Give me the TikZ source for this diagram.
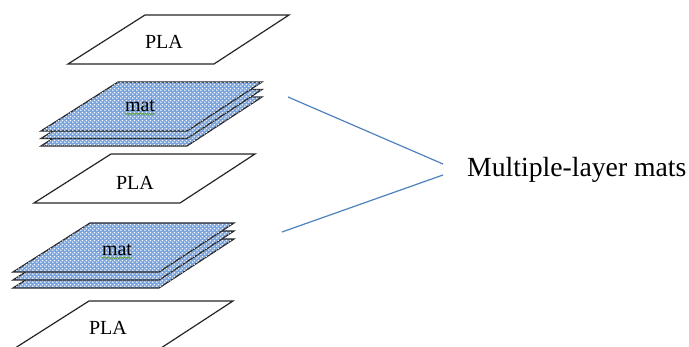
\documentclass[tikz,border=0pt]{standalone}
\usepackage{fontspec}
\setmainfont{Liberation Serif}
\usetikzlibrary{patterns,decorations.pathmorphing}

% white dot lattice laid over the blue fill of the mat sheets
\pgfdeclarepatternformonly{matdots}{\pgfqpoint{0pt}{0pt}}{\pgfqpoint{4pt}{4pt}}{\pgfqpoint{4pt}{4pt}}{%
  \pgfpathcircle{\pgfqpoint{1pt}{1pt}}{1.05pt}%
  \pgfpathcircle{\pgfqpoint{3pt}{3pt}}{1.05pt}%
  \pgfusepath{fill}}

\definecolor{matblue}{RGB}{120,162,220}
\definecolor{leadblue}{RGB}{79,129,189}
\definecolor{spellgreen}{RGB}{90,160,60}

\tikzset{
  sheetline/.style={draw=black!85, line width=1.2pt, line join=miter},
  plasheet/.style={sheetline, fill=white},
  matsheet/.style={sheetline, fill=matblue, postaction={pattern=matdots, pattern color=white}},
  sheetlabel/.style={font=\fontsize{20}{24}\selectfont, inner sep=0pt},
  leader/.style={draw=leadblue, line width=1.2pt},
  squiggle/.style={draw=spellgreen, line width=0.6pt,
    decorate, decoration={zigzag, amplitude=0.7pt, segment length=2.2pt}}
}

% one sheet seen in perspective, given by its top-left corner
\newcommand\layersheet[3]{%
  \path[#1] (#2,#3) -- ++(144,0) -- ++(-75,49) -- ++(-146,0) -- cycle;}

\begin{document}
\begin{tikzpicture}[x=1pt,y=-1pt]
  \useasboundingbox (0,0) rectangle (689,347);
  \clip (0,0) rectangle (689,347);

  % top PLA sheet
  \layersheet{plasheet}{145}{15}
  \node[sheetlabel] (pla1) at (164,42) {PLA};

  % first mat stack, drawn from the bottom sheet up
  \layersheet{matsheet}{118}{97}
  \layersheet{matsheet}{118}{89.5}
  \layersheet{matsheet}{118}{82}
  \node[sheetlabel] (mat1) at (140,106) {mat};
  \draw[squiggle] ([yshift=-2pt]mat1.south west) -- ([yshift=-2pt]mat1.south east);

  % middle PLA sheet
  \layersheet{plasheet}{111}{154}
  \node[sheetlabel] (pla2) at (135,183) {PLA};

  % second mat stack
  \layersheet{matsheet}{90}{239}
  \layersheet{matsheet}{90}{231}
  \layersheet{matsheet}{90}{223}
  \node[sheetlabel] (mat2) at (117,250) {mat};
  \draw[squiggle] ([yshift=-2pt]mat2.south west) -- ([yshift=-2pt]mat2.south east);

  % bottom PLA sheet
  \layersheet{plasheet}{89}{301}
  \node[sheetlabel] (pla3) at (108,328) {PLA};

  % caption and its two leader lines
  \node[font=\fontsize{27.7}{32}\selectfont, inner sep=0pt, anchor=base west] (caption) at (467,177) {Multiple-layer mats};
  \coordinate (tipA) at (288,97);
  \coordinate (tipB) at (282,232);
  \coordinate (joinA) at (443,164);
  \coordinate (joinB) at (443,175);
  \draw[leader] (tipA) -- (joinA);
  \draw[leader] (joinB) -- (tipB);
\end{tikzpicture}
\end{document}
